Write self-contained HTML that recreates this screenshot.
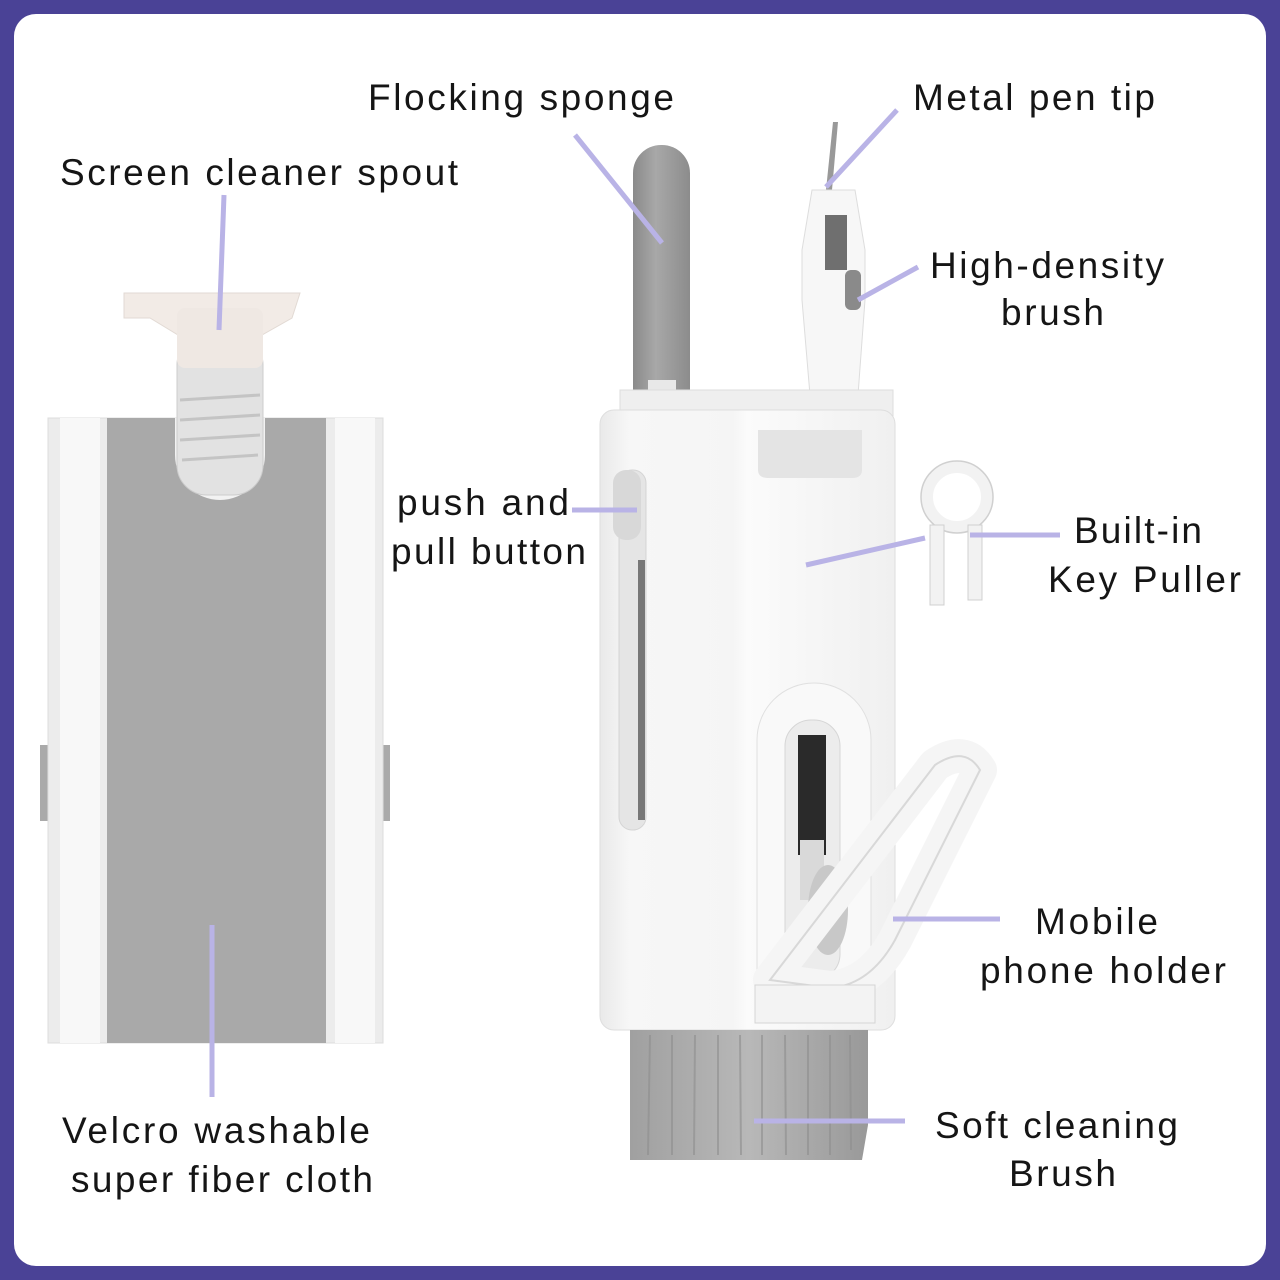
<!DOCTYPE html>
<html><head><meta charset="utf-8"><style>
html,body{margin:0;padding:0;background:#4a4296;}
svg{display:block}
text{font-family:"Liberation Sans",sans-serif;font-size:37px;fill:#151515;}
</style></head><body>
<svg width="1280" height="1280" viewBox="0 0 1280 1280" xmlns="http://www.w3.org/2000/svg">
<defs>
<linearGradient id="body" x1="0" x2="1"><stop offset="0" stop-color="#e9e9e9"/><stop offset="0.1" stop-color="#f7f7f7"/><stop offset="0.45" stop-color="#f5f5f5"/><stop offset="0.5" stop-color="#fbfbfb"/><stop offset="1" stop-color="#f0f0f0"/></linearGradient>
<linearGradient id="sponge" x1="0" x2="1"><stop offset="0" stop-color="#8a8a8a"/><stop offset="0.4" stop-color="#a8a8a8"/><stop offset="1" stop-color="#8c8c8c"/></linearGradient>
<linearGradient id="bristle" x1="0" x2="1"><stop offset="0" stop-color="#a0a0a0"/><stop offset="0.5" stop-color="#b8b8b8"/><stop offset="1" stop-color="#999"/></linearGradient>
</defs>
<rect x="14" y="14" width="1252" height="1252" rx="22" fill="#fff"/>

<!-- left device -->
<rect x="40" y="745" width="10" height="76" fill="#aaa"/>
<rect x="380" y="745" width="10" height="76" fill="#aaa"/>
<rect x="48" y="418" width="335" height="625" fill="#ececec" stroke="#ddd"/>
<rect x="60" y="418" width="40" height="625" fill="#f8f8f8"/>
<rect x="335" y="418" width="40" height="625" fill="#f8f8f8"/>
<rect x="107" y="418" width="219" height="625" fill="#a9a9a9"/>
<path d="M175 418 V455 A45 45 0 0 0 265 455 V418 Z" fill="#f2f2f2"/>
<rect x="177" y="335" width="86" height="160" rx="30" fill="#e2e2e2" stroke="#ccc"/>
<g stroke="#c4c4c4" stroke-width="3"><line x1="180" y1="400" x2="260" y2="395"/><line x1="180" y1="420" x2="260" y2="415"/><line x1="180" y1="440" x2="260" y2="435"/><line x1="182" y1="460" x2="258" y2="455"/></g>
<path d="M124 293 H300 L292 318 L262 335 H178 L150 318 H124 Z" fill="#f2ebe6" stroke="#e2dad4"/>
<rect x="177" y="308" width="86" height="60" rx="8" fill="#efe8e3"/>

<!-- right device -->
<rect x="633" y="145" width="57" height="275" rx="28" fill="url(#sponge)"/>
<rect x="648" y="380" width="28" height="40" fill="#e8e8e8"/>
<path d="M833 122 L838 122 L832 190 L826 190 Z" fill="#999"/>
<path d="M812 190 H855 L865 250 V300 L858 395 H810 L802 300 V250 Z" fill="#f7f7f7" stroke="#ddd"/>
<rect x="825" y="215" width="22" height="55" fill="#6f6f6f"/>
<rect x="845" y="270" width="16" height="40" rx="6" fill="#8a8a8a"/>
<rect x="620" y="390" width="273" height="40" fill="#efefef" stroke="#ddd"/>
<rect x="600" y="410" width="295" height="620" rx="14" fill="url(#body)" stroke="#dedede"/>
<path d="M758 430 H862 V470 Q862 478 852 478 H768 Q758 478 758 470 Z" fill="#e4e4e4"/>
<rect x="619" y="470" width="27" height="360" rx="13" fill="#e5e5e5" stroke="#d4d4d4"/>
<rect x="613" y="470" width="28" height="70" rx="13" fill="#d8d8d8"/>
<rect x="638" y="560" width="7" height="260" fill="#777"/>
<path d="M757 1000 V740 A57 57 0 0 1 871 740 V1000 Z" fill="#f9f9f9" stroke="#e0e0e0"/>
<rect x="785" y="720" width="55" height="260" rx="26" fill="#ececec" stroke="#d6d6d6"/>
<rect x="798" y="735" width="28" height="120" fill="#2a2a2a"/>
<rect x="800" y="840" width="24" height="60" fill="#d9d9d9"/>
<ellipse cx="828" cy="910" rx="20" ry="45" fill="#c8c8c8"/>
<path d="M770 980 L935 765 Q965 745 980 770 L895 940 Q870 985 830 988 Z" fill="none" stroke="#f5f5f5" stroke-width="34" stroke-linejoin="round"/>
<path d="M770 980 L935 765 Q965 745 980 770 L895 940 Q870 985 830 988 Z" fill="none" stroke="#d8d8d8" stroke-width="2"/>
<rect x="755" y="985" width="120" height="38" fill="#f3f3f3" stroke="#d5d5d5"/>
<path d="M630 1030 H868 V1125 L862 1160 H630 Z" fill="url(#bristle)"/>
<g stroke="#8e8e8e" stroke-width="2" opacity="0.6">
<line x1="650" y1="1035" x2="648" y2="1155"/><line x1="672" y1="1035" x2="672" y2="1155"/><line x1="695" y1="1035" x2="694" y2="1155"/><line x1="718" y1="1035" x2="718" y2="1155"/><line x1="740" y1="1035" x2="741" y2="1155"/><line x1="762" y1="1035" x2="762" y2="1155"/><line x1="785" y1="1035" x2="786" y2="1155"/><line x1="808" y1="1035" x2="808" y2="1155"/><line x1="830" y1="1035" x2="830" y2="1155"/><line x1="850" y1="1035" x2="851" y2="1150"/>
</g>
<circle cx="957" cy="497" r="30" fill="none" stroke="#f2f2f2" stroke-width="12"/>
<circle cx="957" cy="497" r="36" fill="none" stroke="#d0d0d0" stroke-width="1.5"/>
<rect x="930" y="525" width="14" height="80" fill="#f2f2f2" stroke="#d0d0d0"/>
<rect x="968" y="525" width="14" height="75" fill="#f2f2f2" stroke="#d0d0d0"/>

<g stroke="#b9b3e6" stroke-width="5" fill="none">
<line x1="224" y1="195" x2="219" y2="330"/>
<line x1="575" y1="135" x2="662" y2="243"/>
<line x1="897" y1="110" x2="826" y2="187"/>
<line x1="918" y1="267" x2="858" y2="300"/>
<line x1="572" y1="510" x2="637" y2="510"/>
<line x1="806" y1="565" x2="925" y2="538"/>
<line x1="970" y1="535" x2="1060" y2="535"/>
<line x1="893" y1="919" x2="1000" y2="919"/>
<line x1="754" y1="1121" x2="905" y2="1121"/>
<line x1="212" y1="925" x2="212" y2="1097"/>
</g>

<text x="60" y="185" textLength="398" lengthAdjust="spacing">Screen cleaner spout</text>
<text x="368" y="110" textLength="306" lengthAdjust="spacing">Flocking sponge</text>
<text x="913" y="110" textLength="242" lengthAdjust="spacing">Metal pen tip</text>
<text x="930" y="278" textLength="234" lengthAdjust="spacing">High-density</text>
<text x="1001" y="325" textLength="103" lengthAdjust="spacing">brush</text>
<text x="397" y="515" textLength="172" lengthAdjust="spacing">push and</text>
<text x="391" y="564" textLength="195" lengthAdjust="spacing">pull button</text>
<text x="1074" y="543" textLength="128" lengthAdjust="spacing">Built-in</text>
<text x="1048" y="592" textLength="193" lengthAdjust="spacing">Key Puller</text>
<text x="1035" y="934" textLength="123" lengthAdjust="spacing">Mobile</text>
<text x="980" y="983" textLength="246" lengthAdjust="spacing">phone holder</text>
<text x="935" y="1138" textLength="243" lengthAdjust="spacing">Soft cleaning</text>
<text x="1009" y="1186" textLength="107" lengthAdjust="spacing">Brush</text>
<text x="62" y="1143" textLength="308" lengthAdjust="spacing">Velcro washable</text>
<text x="71" y="1192" textLength="302" lengthAdjust="spacing">super fiber cloth</text>
</svg>
</body></html>
